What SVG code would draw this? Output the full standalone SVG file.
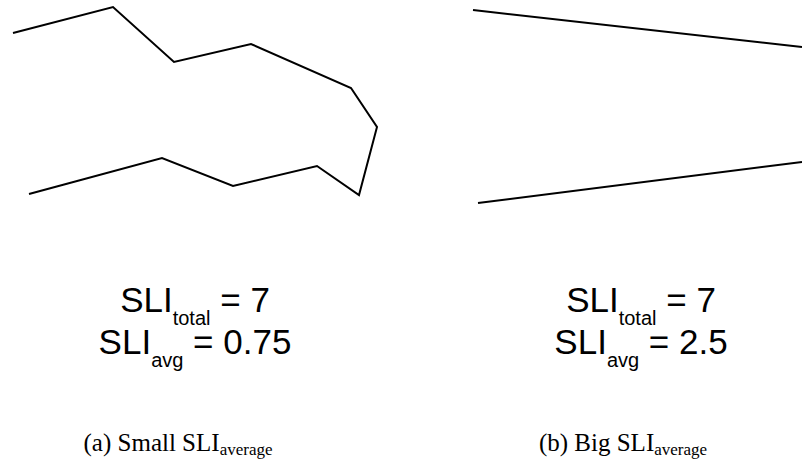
<svg xmlns="http://www.w3.org/2000/svg" width="802" height="464" viewBox="0 0 802 464">
<style>
.ln{fill:none;stroke:#000;stroke-width:2;stroke-linejoin:miter}
.f{font-family:"Liberation Sans",Arial,sans-serif;font-size:35px;fill:#000;text-anchor:middle}
.s{font-size:20px}
.c{font-family:"Liberation Serif","Times New Roman",serif;font-size:25px;fill:#000;text-anchor:middle}
.cs{font-size:17px}
</style>
<rect width="802" height="464" fill="#fff"/>
<g id="shape-a">
<polyline class="ln" points="13,33 113,7 174,62 251,44 351,88 377,127 359,195 317,166 233,186 162,158 29,194"/>
</g>
<g id="shape-b">
<line class="ln" x1="473" y1="10" x2="802" y2="47"/>
<line class="ln" x1="478" y1="203" x2="802" y2="162"/>
</g>
<g id="label-a">
<text class="f" x="195" y="312">SLI<tspan class="s" dy="13">total</tspan><tspan dy="-13"> = 7</tspan></text>
<text class="f" x="195" y="354">SLI<tspan class="s" dy="13">avg</tspan><tspan dy="-13"> = 0.75</tspan></text>
</g>
<g id="label-b">
<text class="f" x="641" y="312">SLI<tspan class="s" dy="13">total</tspan><tspan dy="-13"> = 7</tspan></text>
<text class="f" x="641" y="354">SLI<tspan class="s" dy="13">avg</tspan><tspan dy="-13"> = 2.5</tspan></text>
</g>
<g id="caption-a">
<text class="c" x="178" y="451">(a) Small SLI<tspan class="cs" dy="4">average</tspan></text>
</g>
<g id="caption-b">
<text class="c" x="623" y="451">(b) Big SLI<tspan class="cs" dy="4">average</tspan></text>
</g>
</svg>
